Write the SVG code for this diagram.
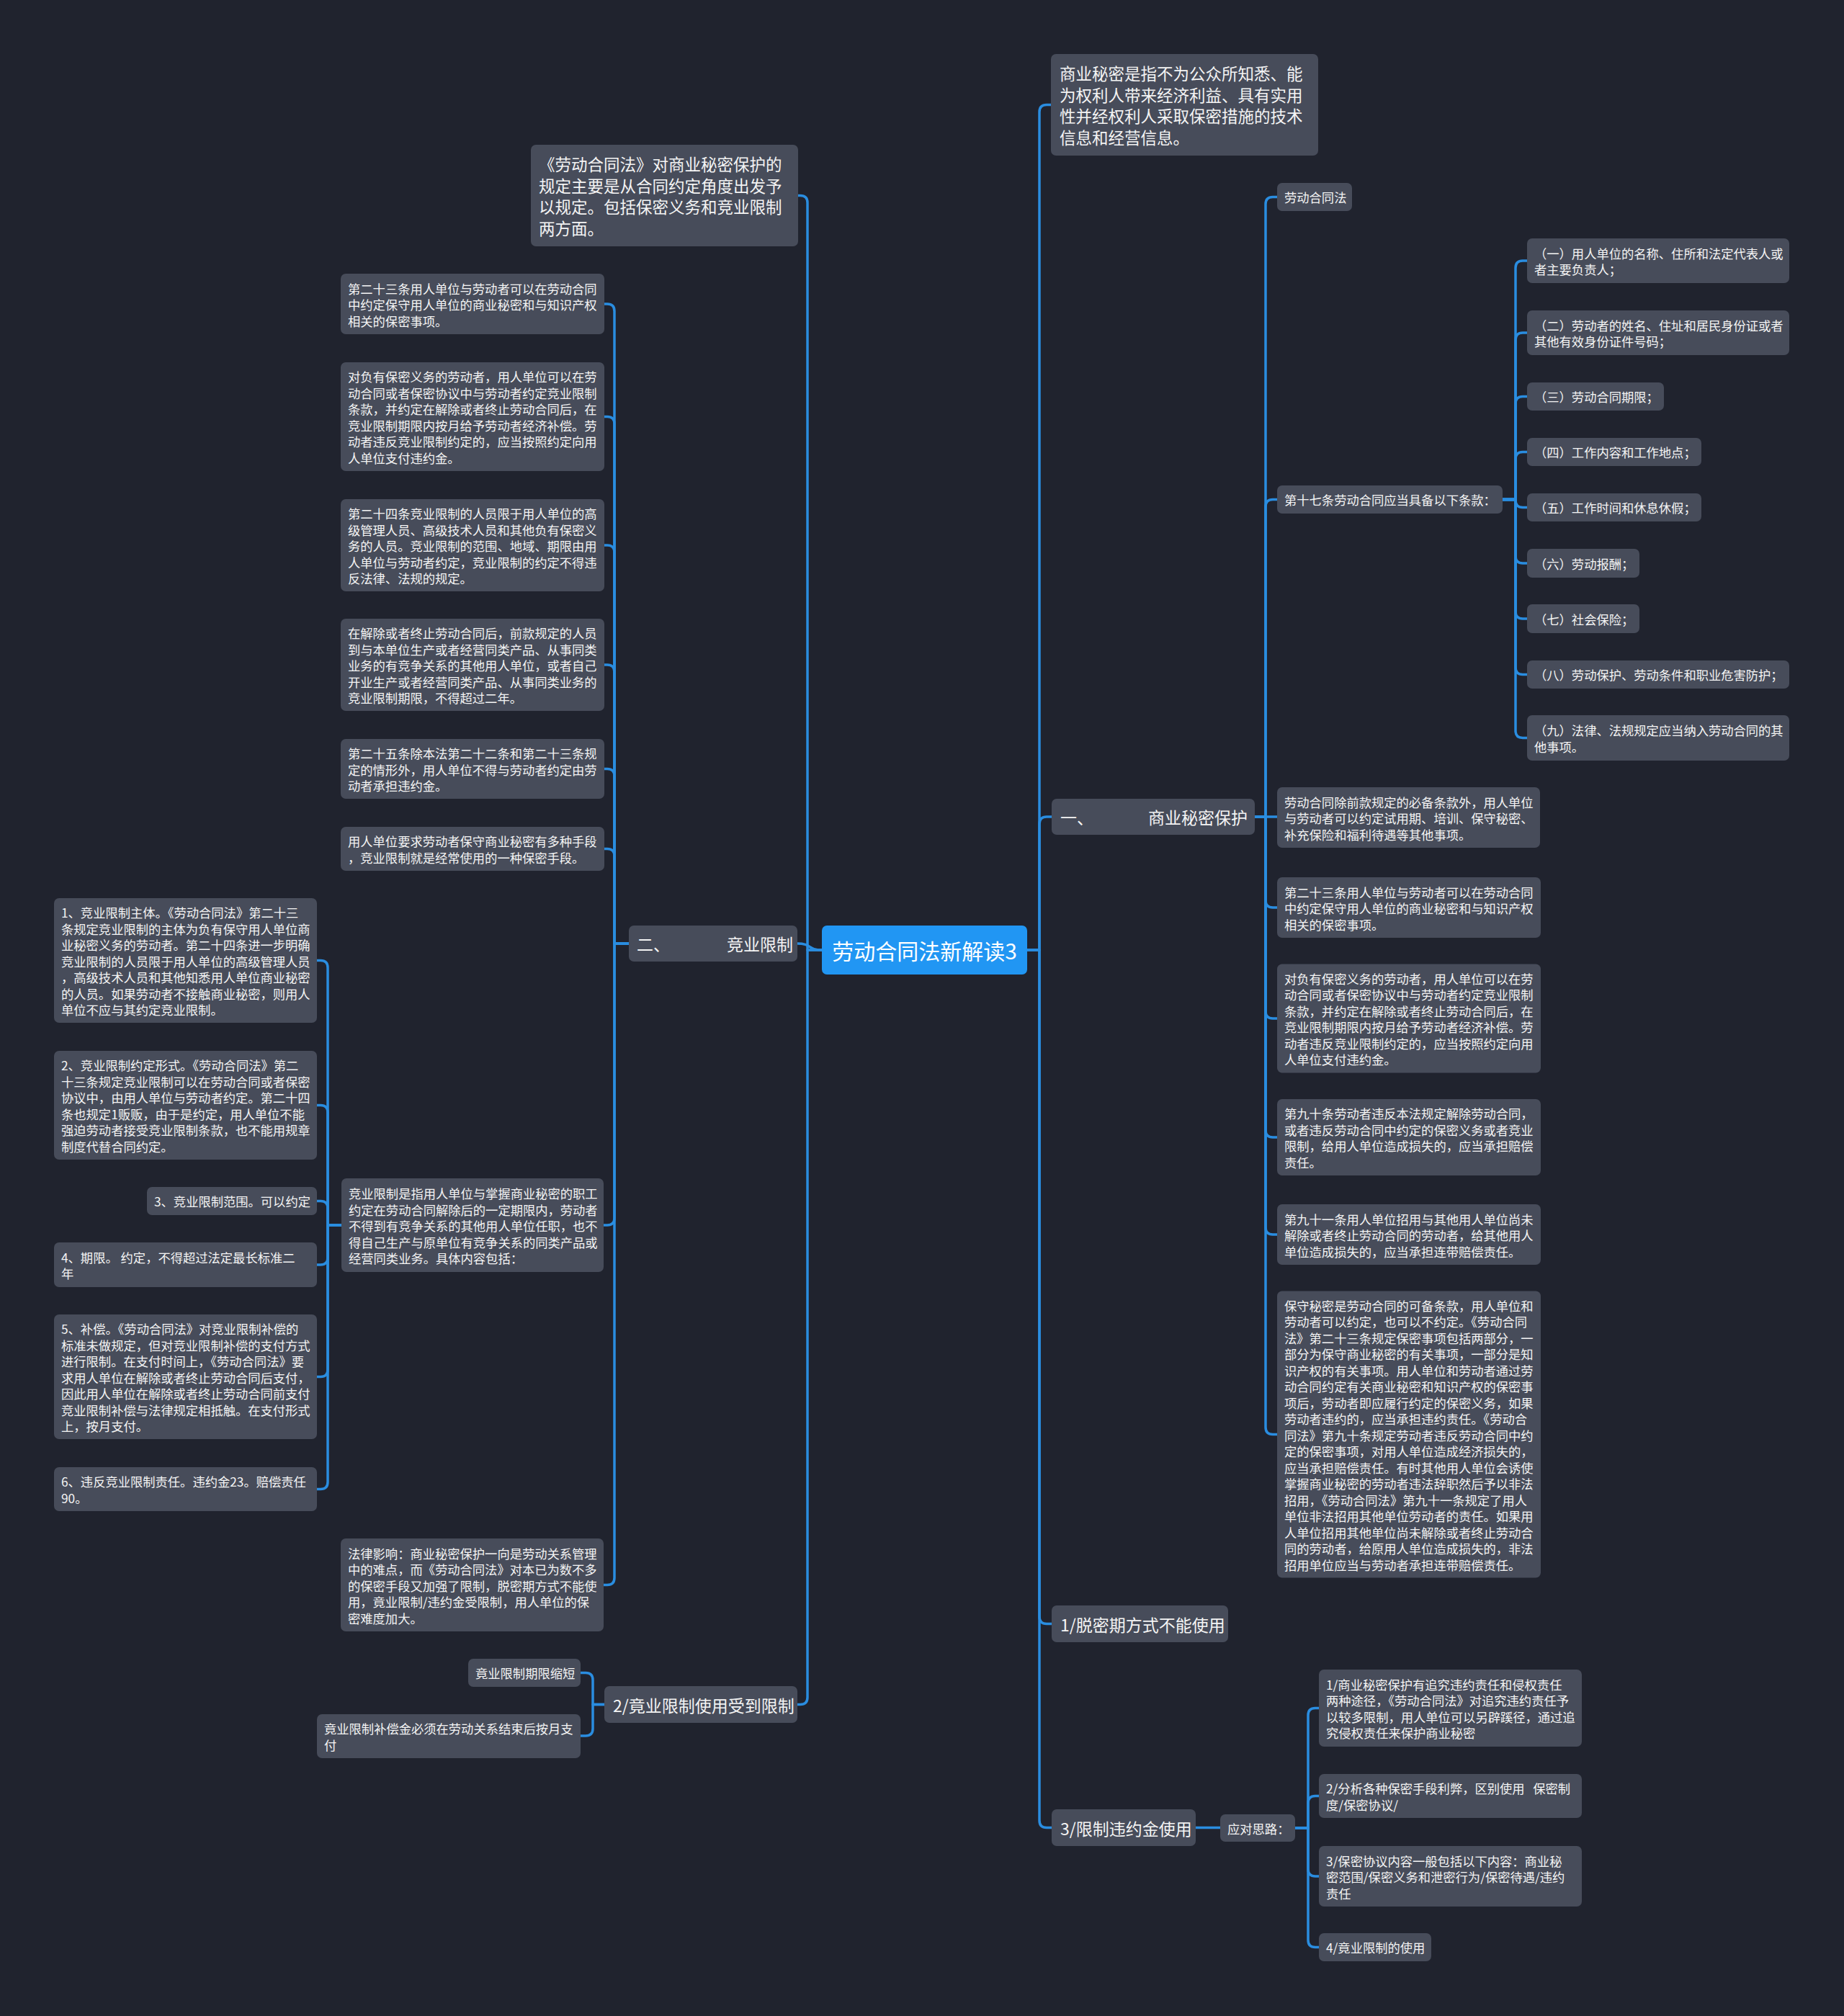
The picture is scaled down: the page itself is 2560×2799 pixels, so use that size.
<svg xmlns="http://www.w3.org/2000/svg" width="2560" height="2799" viewBox="0 0 2560 2799">
<style>
.bg{fill:#20232e}
.n{fill:#474c5a}
.c{fill:#2196f3}
text{font-family:"Noto Sans CJK SC","Noto Sans",sans-serif;fill:#f4f4f4;dominant-baseline:central;white-space:pre}
.s{font-size:17.3px}
.l{font-size:22.5px}
.m{font-size:23px}
.ct{font-size:30px;fill:#ffffff;text-anchor:middle}
#connectors path{fill:none;stroke:#2a8de0;stroke-width:3.5;stroke-linecap:round;stroke-linejoin:round}
</style>
<rect class="bg" x="0" y="0" width="2560" height="2799"/>

<g id="connectors">
<!-- center left -->
<path d="M1141 1319 H1121 V281.5 Q1121 271.5 1111 271.5 H1107"/>
<path d="M1141 1319 C1121 1319 1127 1310 1107 1310"/>
<path d="M1141 1319 H1121 V2356.5 Q1121 2366.5 1111 2366.5 H1107"/>
<!-- center right -->
<path d="M1426 1319 H1443 V155.5 Q1443 145.5 1453 145.5 H1459"/>
<path d="M1426 1319 H1443 V1144 Q1443 1134 1453 1134 H1460"/>
<path d="M1426 1319 H1443 V2244.5 Q1443 2254.5 1453 2254.5 H1460"/>
<path d="M1426 1319 H1443 V2527.5 Q1443 2537.5 1453 2537.5 H1460"/>
<!-- 二、竞业限制 children -->
<path d="M873 1310 H853 V432 Q853 422 843 422 H839"/>
<path d="M873 1310 H853 V588.5 Q853 578.5 843 578.5 H839"/>
<path d="M873 1310 H853 V767 Q853 757 843 757 H839"/>
<path d="M873 1310 H853 V933 Q853 923 843 923 H839"/>
<path d="M873 1310 H853 V1077.5 Q853 1067.5 843 1067.5 H839"/>
<path d="M873 1310 H853 V1188.5 Q853 1178.5 843 1178.5 H839"/>
<path d="M873 1310 H853 V1691 Q853 1701 843 1701 H838"/>
<path d="M873 1310 H853 V2190.5 Q853 2200.5 843 2200.5 H838"/>
<!-- 竞业限制是指 children -->
<path d="M474 1701 H455 V1343.5 Q455 1333.5 445 1333.5 H440"/>
<path d="M474 1701 H455 V1544.5 Q455 1534.5 445 1534.5 H440"/>
<path d="M474 1701 H455 V1677.5 Q455 1667.5 445 1667.5 H440"/>
<path d="M474 1701 H455 V1746 Q455 1756 445 1756 H440"/>
<path d="M474 1701 H455 V1901.5 Q455 1911.5 445 1911.5 H440"/>
<path d="M474 1701 H455 V2057.5 Q455 2067.5 445 2067.5 H440"/>
<!-- 2/竟业限制使用受到限制 children -->
<path d="M839 2366.5 H823 V2332.5 Q823 2322.5 813 2322.5 H806"/>
<path d="M839 2366.5 H823 V2400 Q823 2410 813 2410 H806"/>
<!-- 一、商业秘密保护 children -->
<path d="M1742 1134 H1757 V283.5 Q1757 273.5 1767 273.5 H1773"/>
<path d="M1742 1134 H1757 V703.5 Q1757 693.5 1767 693.5 H1773"/>
<path d="M1742 1134 H1773"/>
<path d="M1742 1134 H1757 V1250 Q1757 1260 1767 1260 H1773"/>
<path d="M1742 1134 H1757 V1404 Q1757 1414 1767 1414 H1773"/>
<path d="M1742 1134 H1757 V1569 Q1757 1579 1767 1579 H1773"/>
<path d="M1742 1134 H1757 V1704 Q1757 1714 1767 1714 H1773"/>
<path d="M1742 1134 H1757 V1981.5 Q1757 1991.5 1767 1991.5 H1773"/>
<!-- 第十七条 children -->
<path d="M2086 693.5 H2104 V372 Q2104 362 2114 362 H2120"/>
<path d="M2086 693.5 H2104 V472 Q2104 462 2114 462 H2120"/>
<path d="M2086 693.5 H2104 V560.5 Q2104 550.5 2114 550.5 H2120"/>
<path d="M2086 693.5 H2104 V637.5 Q2104 627.5 2114 627.5 H2120"/>
<path d="M2086 693.5 H2104 V694.5 Q2104 704.5 2114 704.5 H2120"/>
<path d="M2086 693.5 H2104 V772 Q2104 782 2114 782 H2120"/>
<path d="M2086 693.5 H2104 V849 Q2104 859 2114 859 H2120"/>
<path d="M2086 693.5 H2104 V926.5 Q2104 936.5 2114 936.5 H2120"/>
<path d="M2086 693.5 H2104 V1014.5 Q2104 1024.5 2114 1024.5 H2120"/>
<!-- 3/限制违约金使用 -> 应对思路 -->
<path d="M1660 2537.5 H1694"/>
<!-- 应对思路 children -->
<path d="M1798 2538 H1816 V2381.5 Q1816 2371.5 1826 2371.5 H1831"/>
<path d="M1798 2538 H1816 V2503.5 Q1816 2493.5 1826 2493.5 H1831"/>
<path d="M1798 2538 H1816 V2595 Q1816 2605 1826 2605 H1831"/>
<path d="M1798 2538 H1816 V2693.5 Q1816 2703.5 1826 2703.5 H1831"/>
</g>

<g id="center">
<rect class="c" x="1141" y="1285" width="285" height="68" rx="7"/>
<text class="ct" x="1283.5" y="1319">劳动合同法新解读3</text>
</g>

<g id="top-left">
<rect class="n" x="737" y="201" width="371" height="141" rx="7"/>
<text class="l"><tspan x="748" y="227.25">《劳动合同法》对商业秘密保护的</tspan><tspan x="748" y="256.75">规定主要是从合同约定角度出发予</tspan><tspan x="748" y="286.25">以规定。包括保密义务和竞业限制</tspan><tspan x="748" y="315.75">两方面。</tspan></text>
</g>

<g id="competition">
<rect class="n" x="873" y="1285" width="234" height="50" rx="7"/>
<text class="m" x="884" y="1310">二、<tspan x="1009">竞业限制</tspan></text>
</g>

<g id="restricted">
<rect class="n" x="839" y="2341" width="268" height="51" rx="7"/>
<text class="m" x="851" y="2366.5">2/竟业限制使用受到限制</text>
</g>

<g id="b1">
<rect class="n" x="473" y="380" width="366" height="84" rx="7"/>
<text class="s"><tspan x="483" y="399.5">第二十三条用人单位与劳动者可以在劳动合同</tspan><tspan x="483" y="422">中约定保守用人单位的商业秘密和与知识产权</tspan><tspan x="483" y="444.5">相关的保密事项。</tspan></text>
</g>
<g id="b2">
<rect class="n" x="473" y="503" width="366" height="151" rx="7"/>
<text class="s"><tspan x="483" y="522.25">对负有保密义务的劳动者，用人单位可以在劳</tspan><tspan x="483" y="544.75">动合同或者保密协议中与劳动者约定竞业限制</tspan><tspan x="483" y="567.25">条款，并约定在解除或者终止劳动合同后，在</tspan><tspan x="483" y="589.75">竞业限制期限内按月给予劳动者经济补偿。劳</tspan><tspan x="483" y="612.25">动者违反竞业限制约定的，应当按照约定向用</tspan><tspan x="483" y="634.75">人单位支付违约金。</tspan></text>
</g>
<g id="b3">
<rect class="n" x="473" y="693" width="366" height="128" rx="7"/>
<text class="s"><tspan x="483" y="712">第二十四条竞业限制的人员限于用人单位的高</tspan><tspan x="483" y="734.5">级管理人员、高级技术人员和其他负有保密义</tspan><tspan x="483" y="757">务的人员。竞业限制的范围、地域、期限由用</tspan><tspan x="483" y="779.5">人单位与劳动者约定，竞业限制的约定不得违</tspan><tspan x="483" y="802">反法律、法规的规定。</tspan></text>
</g>
<g id="b4">
<rect class="n" x="473" y="859" width="366" height="128" rx="7"/>
<text class="s"><tspan x="483" y="878">在解除或者终止劳动合同后，前款规定的人员</tspan><tspan x="483" y="900.5">到与本单位生产或者经营同类产品、从事同类</tspan><tspan x="483" y="923">业务的有竞争关系的其他用人单位，或者自己</tspan><tspan x="483" y="945.5">开业生产或者经营同类产品、从事同类业务的</tspan><tspan x="483" y="968">竞业限制期限，不得超过二年。</tspan></text>
</g>
<g id="b5">
<rect class="n" x="473" y="1026" width="366" height="83" rx="7"/>
<text class="s"><tspan x="483" y="1045">第二十五条除本法第二十二条和第二十三条规</tspan><tspan x="483" y="1067.5">定的情形外，用人单位不得与劳动者约定由劳</tspan><tspan x="483" y="1090">动者承担违约金。</tspan></text>
</g>
<g id="b6">
<rect class="n" x="473" y="1148" width="366" height="61" rx="7"/>
<text class="s"><tspan x="483" y="1167.25">用人单位要求劳动者保守商业秘密有多种手段</tspan><tspan x="483" y="1189.75">，竞业限制就是经常使用的一种保密手段。</tspan></text>
</g>
<g id="b7">
<rect class="n" x="474" y="1636" width="364" height="130" rx="7"/>
<text class="s"><tspan x="484" y="1656">竞业限制是指用人单位与掌握商业秘密的职工</tspan><tspan x="484" y="1678.5">约定在劳动合同解除后的一定期限内，劳动者</tspan><tspan x="484" y="1701">不得到有竞争关系的其他用人单位任职，也不</tspan><tspan x="484" y="1723.5">得自己生产与原单位有竞争关系的同类产品或</tspan><tspan x="484" y="1746">经营同类业务。具体内容包括：</tspan></text>
</g>
<g id="b8">
<rect class="n" x="473" y="2136" width="365" height="129" rx="7"/>
<text class="s"><tspan x="483" y="2155.5">法律影响：商业秘密保护一向是劳动关系管理</tspan><tspan x="483" y="2178">中的难点，而《劳动合同法》对本已为数不多</tspan><tspan x="483" y="2200.5">的保密手段又加强了限制，脱密期方式不能使</tspan><tspan x="483" y="2223">用，竟业限制/违约金受限制，用人单位的保</tspan><tspan x="483" y="2245.5">密难度加大。</tspan></text>
</g>

<g id="f1">
<rect class="n" x="75" y="1247" width="365" height="173" rx="7"/>
<text class="s"><tspan x="85" y="1266">1、竞业限制主体。《劳动合同法》第二十三</tspan><tspan x="85" y="1288.5">条规定竞业限制的主体为负有保守用人单位商</tspan><tspan x="85" y="1311">业秘密义务的劳动者。第二十四条进一步明确</tspan><tspan x="85" y="1333.5">竞业限制的人员限于用人单位的高级管理人员</tspan><tspan x="85" y="1356">，高级技术人员和其他知悉用人单位商业秘密</tspan><tspan x="85" y="1378.5">的人员。如果劳动者不接触商业秘密，则用人</tspan><tspan x="85" y="1401">单位不应与其约定竞业限制。</tspan></text>
</g>
<g id="f2">
<rect class="n" x="75" y="1459" width="365" height="151" rx="7"/>
<text class="s"><tspan x="85" y="1478.25">2、竞业限制约定形式。《劳动合同法》第二</tspan><tspan x="85" y="1500.75">十三条规定竞业限制可以在劳动合同或者保密</tspan><tspan x="85" y="1523.25">协议中，由用人单位与劳动者约定。第二十四</tspan><tspan x="85" y="1545.75">条也规定1贩贩，由于是约定，用人单位不能</tspan><tspan x="85" y="1568.25">强迫劳动者接受竞业限制条款，也不能用规章</tspan><tspan x="85" y="1590.75">制度代替合同约定。</tspan></text>
</g>
<g id="f3">
<rect class="n" x="204" y="1648" width="236" height="39" rx="7"/>
<text class="s" x="214" y="1667.5">3、竞业限制范围。可以约定</text>
</g>
<g id="f4">
<rect class="n" x="75" y="1725" width="365" height="62" rx="7"/>
<text class="s"><tspan x="85" y="1744.75">4、期限。 约定，不得超过法定最长标准二</tspan><tspan x="85" y="1767.25">年</tspan></text>
</g>
<g id="f5">
<rect class="n" x="75" y="1825" width="365" height="173" rx="7"/>
<text class="s"><tspan x="85" y="1844">5、补偿。《劳动合同法》对竞业限制补偿的</tspan><tspan x="85" y="1866.5">标准未做规定，但对竞业限制补偿的支付方式</tspan><tspan x="85" y="1889">进行限制。在支付时间上，《劳动合同法》要</tspan><tspan x="85" y="1911.5">求用人单位在解除或者终止劳动合同后支付，</tspan><tspan x="85" y="1934">因此用人单位在解除或者终止劳动合同前支付</tspan><tspan x="85" y="1956.5">竞业限制补偿与法律规定相抵触。在支付形式</tspan><tspan x="85" y="1979">上，按月支付。</tspan></text>
</g>
<g id="f6">
<rect class="n" x="75" y="2037" width="365" height="61" rx="7"/>
<text class="s"><tspan x="85" y="2056.25">6、违反竞业限制责任。违约金23。赔偿责任</tspan><tspan x="85" y="2078.75">90。</tspan></text>
</g>

<g id="g1">
<rect class="n" x="650" y="2303" width="156" height="39" rx="7"/>
<text class="s" x="660" y="2322.5">竟业限制期限缩短</text>
</g>
<g id="g2">
<rect class="n" x="440" y="2380" width="366" height="61" rx="7"/>
<text class="s"><tspan x="450" y="2399.25">竟业限制补偿金必须在劳动关系结束后按月支</tspan><tspan x="450" y="2421.75">付</tspan></text>
</g>

<g id="top-right">
<rect class="n" x="1459" y="75" width="371" height="141" rx="7"/>
<text class="l"><tspan x="1471" y="101.25">商业秘密是指不为公众所知悉、能</tspan><tspan x="1471" y="130.75">为权利人带来经济利益、具有实用</tspan><tspan x="1471" y="160.25">性并经权利人采取保密措施的技术</tspan><tspan x="1471" y="189.75">信息和经营信息。</tspan></text>
</g>

<g id="secret">
<rect class="n" x="1460" y="1109" width="282" height="50" rx="7"/>
<text class="m" x="1472" y="1134">一、<tspan x="1594">商业秘密保护</tspan></text>
</g>

<g id="r1">
<rect class="n" x="1773" y="254" width="104" height="39" rx="7"/>
<text class="s" x="1783" y="273.5">劳动合同法</text>
</g>
<g id="r2">
<rect class="n" x="1773" y="674" width="313" height="39" rx="7"/>
<text class="s" x="1783" y="693.5">第十七条劳动合同应当具备以下条款：</text>
</g>
<g id="k1">
<rect class="n" x="2120" y="331" width="364" height="62" rx="7"/>
<text class="s"><tspan x="2130" y="350.75">（一）用人单位的名称、住所和法定代表人或</tspan><tspan x="2130" y="373.25">者主要负责人；</tspan></text>
</g>
<g id="k2">
<rect class="n" x="2120" y="431" width="364" height="62" rx="7"/>
<text class="s"><tspan x="2130" y="450.75">（二）劳动者的姓名、住址和居民身份证或者</tspan><tspan x="2130" y="473.25">其他有效身份证件号码；</tspan></text>
</g>
<g id="k3">
<rect class="n" x="2120" y="531" width="190" height="39" rx="7"/>
<text class="s" x="2130" y="550.5">（三）劳动合同期限；</text>
</g>
<g id="k4">
<rect class="n" x="2120" y="608" width="242" height="39" rx="7"/>
<text class="s" x="2130" y="627.5">（四）工作内容和工作地点；</text>
</g>
<g id="k5">
<rect class="n" x="2120" y="685" width="242" height="39" rx="7"/>
<text class="s" x="2130" y="704.5">（五）工作时间和休息休假；</text>
</g>
<g id="k6">
<rect class="n" x="2120" y="762" width="156" height="40" rx="7"/>
<text class="s" x="2130" y="782">（六）劳动报酬；</text>
</g>
<g id="k7">
<rect class="n" x="2120" y="839" width="156" height="40" rx="7"/>
<text class="s" x="2130" y="859">（七）社会保险；</text>
</g>
<g id="k8">
<rect class="n" x="2120" y="917" width="364" height="39" rx="7"/>
<text class="s" x="2130" y="936.5">（八）劳动保护、劳动条件和职业危害防护；</text>
</g>
<g id="k9">
<rect class="n" x="2120" y="993" width="364" height="63" rx="7"/>
<text class="s"><tspan x="2130" y="1013.25">（九）法律、法规规定应当纳入劳动合同的其</tspan><tspan x="2130" y="1035.75">他事项。</tspan></text>
</g>

<g id="r3">
<rect class="n" x="1773" y="1093" width="365" height="84" rx="7"/>
<text class="s"><tspan x="1783" y="1112.5">劳动合同除前款规定的必备条款外，用人单位</tspan><tspan x="1783" y="1135">与劳动者可以约定试用期、培训、保守秘密、</tspan><tspan x="1783" y="1157.5">补充保险和福利待遇等其他事项。</tspan></text>
</g>
<g id="r4">
<rect class="n" x="1773" y="1218" width="366" height="84" rx="7"/>
<text class="s"><tspan x="1783" y="1237.5">第二十三条用人单位与劳动者可以在劳动合同</tspan><tspan x="1783" y="1260">中约定保守用人单位的商业秘密和与知识产权</tspan><tspan x="1783" y="1282.5">相关的保密事项。</tspan></text>
</g>
<g id="r5">
<rect class="n" x="1773" y="1338.5" width="366" height="151" rx="7"/>
<text class="s"><tspan x="1783" y="1357.75">对负有保密义务的劳动者，用人单位可以在劳</tspan><tspan x="1783" y="1380.25">动合同或者保密协议中与劳动者约定竞业限制</tspan><tspan x="1783" y="1402.75">条款，并约定在解除或者终止劳动合同后，在</tspan><tspan x="1783" y="1425.25">竞业限制期限内按月给予劳动者经济补偿。劳</tspan><tspan x="1783" y="1447.75">动者违反竞业限制约定的，应当按照约定向用</tspan><tspan x="1783" y="1470.25">人单位支付违约金。</tspan></text>
</g>
<g id="r6">
<rect class="n" x="1773" y="1526" width="366" height="106" rx="7"/>
<text class="s"><tspan x="1783" y="1545.25">第九十条劳动者违反本法规定解除劳动合同，</tspan><tspan x="1783" y="1567.75">或者违反劳动合同中约定的保密义务或者竞业</tspan><tspan x="1783" y="1590.25">限制，给用人单位造成损失的，应当承担赔偿</tspan><tspan x="1783" y="1612.75">责任。</tspan></text>
</g>
<g id="r7">
<rect class="n" x="1773" y="1672" width="366" height="84" rx="7"/>
<text class="s"><tspan x="1783" y="1691.5">第九十一条用人单位招用与其他用人单位尚未</tspan><tspan x="1783" y="1714">解除或者终止劳动合同的劳动者，给其他用人</tspan><tspan x="1783" y="1736.5">单位造成损失的，应当承担连带赔偿责任。</tspan></text>
</g>
<g id="r8">
<rect class="n" x="1773" y="1792.5" width="366" height="398" rx="7"/>
<text class="s"><tspan x="1783" y="1811.5">保守秘密是劳动合同的可备条款，用人单位和</tspan><tspan x="1783" y="1834">劳动者可以约定，也可以不约定。《劳动合同</tspan><tspan x="1783" y="1856.5">法》第二十三条规定保密事项包括两部分，一</tspan><tspan x="1783" y="1879">部分为保守商业秘密的有关事项，一部分是知</tspan><tspan x="1783" y="1901.5">识产权的有关事项。用人单位和劳动者通过劳</tspan><tspan x="1783" y="1924">动合同约定有关商业秘密和知识产权的保密事</tspan><tspan x="1783" y="1946.5">项后，劳动者即应履行约定的保密义务，如果</tspan><tspan x="1783" y="1969">劳动者违约的，应当承担违约责任。《劳动合</tspan><tspan x="1783" y="1991.5">同法》第九十条规定劳动者违反劳动合同中约</tspan><tspan x="1783" y="2014">定的保密事项，对用人单位造成经济损失的，</tspan><tspan x="1783" y="2036.5">应当承担赔偿责任。有时其他用人单位会诱使</tspan><tspan x="1783" y="2059">掌握商业秘密的劳动者违法辞职然后予以非法</tspan><tspan x="1783" y="2081.5">招用，《劳动合同法》第九十一条规定了用人</tspan><tspan x="1783" y="2104">单位非法招用其他单位劳动者的责任。如果用</tspan><tspan x="1783" y="2126.5">人单位招用其他单位尚未解除或者终止劳动合</tspan><tspan x="1783" y="2149">同的劳动者，给原用人单位造成损失的，非法</tspan><tspan x="1783" y="2171.5">招用单位应当与劳动者承担连带赔偿责任。</tspan></text>
</g>

<g id="declassify">
<rect class="n" x="1460" y="2229" width="245" height="51" rx="7"/>
<text class="m" x="1472" y="2254.5">1/脱密期方式不能使用</text>
</g>
<g id="penalty">
<rect class="n" x="1460" y="2512" width="200" height="51" rx="7"/>
<text class="m" x="1472" y="2537.5">3/限制违约金使用</text>
</g>
<g id="approach">
<rect class="n" x="1694" y="2519" width="104" height="38" rx="7"/>
<text class="s" x="1704" y="2538">应对思路：</text>
</g>
<g id="a1">
<rect class="n" x="1831" y="2318" width="365" height="107" rx="7"/>
<text class="s"><tspan x="1841" y="2337.75">1/商业秘密保护有追究违约责任和侵权责任</tspan><tspan x="1841" y="2360.25">两种途径，《劳动合同法》对追究违约责任予</tspan><tspan x="1841" y="2382.75">以较多限制，用人单位可以另辟蹊径，通过追</tspan><tspan x="1841" y="2405.25">究侵权责任来保护商业秘密</tspan></text>
</g>
<g id="a2">
<rect class="n" x="1831" y="2463" width="365" height="61" rx="7"/>
<text class="s"><tspan x="1841" y="2482.25">2/分析各种保密手段利弊，区别使用   保密制</tspan><tspan x="1841" y="2504.75">度/保密协议/</tspan></text>
</g>
<g id="a3">
<rect class="n" x="1831" y="2563" width="365" height="84" rx="7"/>
<text class="s"><tspan x="1841" y="2582.5">3/保密协议内容一般包括以下内容：商业秘</tspan><tspan x="1841" y="2605">密范围/保密义务和泄密行为/保密待遇/违约</tspan><tspan x="1841" y="2627.5">责任</tspan></text>
</g>
<g id="a4">
<rect class="n" x="1831" y="2684" width="156" height="39" rx="7"/>
<text class="s" x="1841" y="2703.5">4/竟业限制的使用</text>
</g>
</svg>
